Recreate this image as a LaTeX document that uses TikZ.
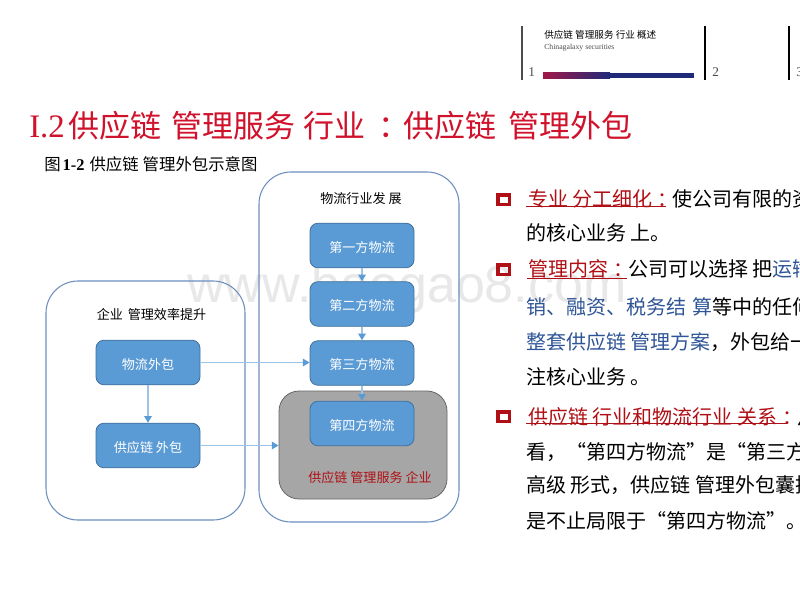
\documentclass[tikz,border=0pt]{standalone}
\usepackage{fontspec}
\setmainfont{Noto Sans CJK SC}
\newfontfamily\latinserif{Liberation Serif}
\usetikzlibrary{arrows.meta}
\definecolor{boxblue}{HTML}{5B9BD5}
\definecolor{boxedge}{HTML}{41719C}
\definecolor{frameblue}{HTML}{6C8EBF}
\definecolor{arrowblue}{HTML}{9DC3E6}
\definecolor{titlered}{HTML}{D0122C}
\definecolor{deepred}{HTML}{B01015}
\definecolor{linkblue}{HTML}{2F5597}
\definecolor{barred}{HTML}{A01848}
\definecolor{barblue}{HTML}{1F2A78}
\newcommand{\fs}[1]{\fontsize{#1}{#1}\selectfont}
\newcommand{\px}[1]{\hspace{#1\dimexpr0.75pt\relax}}
\newcommand{\cln}{\hspace{0.25em}：\hspace{-0.25em}}
\newcommand{\boxlab}[1]{\raisebox{-1.4pt}[8.5pt][1.1pt]{#1}}
\tikzset{
  frame/.style={draw=frameblue,line width=0.8pt,fill=none,rounded corners=24pt,inner sep=0},
  bluebox/.style={draw=boxedge,line width=0.6pt,fill=boxblue,rounded corners=6pt,text=white,minimum width=78pt,minimum height=33.4pt,inner sep=0,font=\fs{9.8}},
  greybox/.style={draw=gray!80!black,line width=0.6pt,fill=black!35,rounded corners=15pt,inner sep=0},
  flow/.style={draw=arrowblue,line width=1.2pt,-{Triangle[length=5pt,width=5.5pt,color=boxblue,fill=boxblue]}},
  captext/.style={font=\fs{9.8},text=black,inner sep=0},
  bodytext/.style={anchor=west,inner sep=0,font=\fs{15},text=black},
  bullet/.style={draw=deepred,line width=2.6pt,fill=none,minimum width=8.6pt,minimum height=7.1pt,inner sep=0},
  uline/.style={draw=deepred,line width=0.7pt},
  hdrrule/.style={draw=black!70,line width=1pt},
  hdrnum/.style={font=\latinserif\fs{10},text=black!70,inner sep=0,anchor=west},
}
\begin{document}
\begin{tikzpicture}[x=0.75pt,y=-0.75pt]
\path[use as bounding box,fill=white] (0,0) rectangle (800,600);
\clip (0,0) rectangle (800,600);
% watermark
\node[anchor=west,inner sep=0,text=black!9,font={\fontspec{Liberation Sans}\fs{39}}] (wm) at (187,289) {www.baogao8.com};
% header
\coordinate (r1a) at (522,26); \coordinate (r1b) at (522,80);
\coordinate (r2a) at (705,26); \coordinate (r2b) at (705,80);
\coordinate (r3a) at (789,26); \coordinate (r3b) at (789,80);
\draw[hdrrule] (r1a)--(r1b); \draw[hdrrule,draw=black] (r2a)--(r2b); \draw[hdrrule,draw=black] (r3a)--(r3b);
\node[hdrnum] (n1) at (528,72) {1};
\node[hdrnum] (n2) at (712,72) {2};
\node[hdrnum] (n3) at (796,72) {3};
\node[anchor=west,inner sep=0,font=\fs{7.2}] (h1) at (544,35) {供应链 管理服务 行业 概述};
\node[anchor=west,inner sep=0,font=\latinserif\fs{5.8},text=black!70] (h2) at (544,47.5) {Chinagalaxy securities};
\shade[left color=barred,right color=barblue,shading angle=90] (543,72.5) rectangle (610,78);
\fill[barblue] (610,72.5) rectangle (694,78);
% title
\node[anchor=west,inner sep=0,text=titlered,font=\fs{23.25}] (title) at (29,126) {{\latinserif\fs{24.6}I.2}\px{4}供应链\px{10}管理服务\px{8}行业\px{13}：\px{-6}供应链\px{12}管理外包};
\node[anchor=west,inner sep=0,font=\fs{12.3}] (fig) at (44,164) {图\px{2}{\latinserif\bfseries 1-2}\px{5}供应链\px{4}管理外包示意图};
% containers
\draw[frame] (46,281) rectangle (245,520);
\draw[frame] (259,172) rectangle (459,522);
\node[captext] (capL) at (151.5,314) {企业\px{2} 管理效率提升};
\node[captext] (capR) at (361,199) {物流行业发 展};
% grey
\node[greybox,minimum width=126pt,minimum height=81pt] (grey) at (363,445) {};
\node[bluebox] (f1) at (362,245.5) {\boxlab{第一方物流}};
\node[bluebox] (f2) at (362,304) {\boxlab{第二方物流}};
\node[bluebox] (f3) at (362,363) {\boxlab{第三方物流}};
\node[bluebox] (f4) at (362,423.5) {\boxlab{第四方物流}};
\node[inner sep=0,text=deepred,font=\fs{9.8}] (gt) at (370,477.5) {供应链 管理服务 企业};
\node[bluebox] (o1) at (148,362.5) {\boxlab{物流外包}};
\node[bluebox] (o2) at (148,445.5) {\boxlab{供应链 外包}};
\draw[flow] (f1)--(f2);
\draw[flow] (f2)--(f3);
\draw[flow] (f3.south) -- (f3.south |- f4.north);
\draw[flow] (o1)--(o2);
\draw[flow] (o1.east)--(o1.east -| f3.west);
\draw[flow] (o2.east)--(o2.east -| grey.west);
% bullets
\node[bullet] (b1) at (503.5,199.5) {};
\node[bullet] (b2) at (503.5,269.5) {};
\node[bullet] (b3) at (503.5,416.5) {};
% body
\node[bodytext] (t1) at (526,199) {\textcolor{deepred}{\px{2}专业 分工细化\cln}使公司有限的资};
\node[bodytext] (t2) at (526,233) {的核心业务 上。};
\node[bodytext] (t3) at (526,269) {\textcolor{deepred}{\px{2}管理内容\cln}公司可以选择 把\textcolor{linkblue}{运输}};
\node[bodytext] (t4) at (526,307) {\textcolor{linkblue}{销、融资、税务结\px{6}算}等中的任何};
\node[bodytext] (t5) at (526,342) {\textcolor{linkblue}{整套供应链 管理方案}，外包给一};
\node[bodytext] (t6) at (526,377) {注核心业务 。};
\node[bodytext] (t7) at (526,417) {\textcolor{deepred}{\px{2}供应链 行业和物流行业 关系\cln}从};
\node[bodytext] (t8) at (526,452) {看，“第四方物流”是“第三方};
\node[bodytext] (t9) at (526,485) {高级 形式，供应链 管理外包囊括};
\node[bodytext] (t10) at (526,521) {是不止局限于“第四方物流”。};
\coordinate (u1a) at (526,206.5); \coordinate (u1b) at (666,206.5);
\coordinate (u2a) at (527,278); \coordinate (u2b) at (627,278);
\coordinate (u3a) at (526,423); \coordinate (u3b) at (787,423);
\draw[uline] (u1a)--(u1b); \draw[uline] (u2a)--(u2b); \draw[uline] (u3a)--(u3b);
\end{tikzpicture}
\end{document}
